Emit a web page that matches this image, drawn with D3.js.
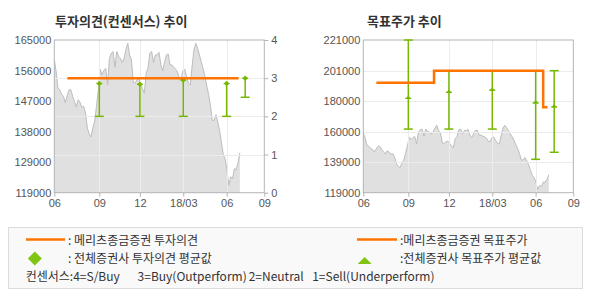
<!DOCTYPE html>
<html>
<head>
<meta charset="utf-8">
<script src="https://cdn.jsdelivr.net/npm/d3@7"></script>
<style>
  body { margin: 0; background: #fff; }
  svg text { font-family: "Liberation Sans", Arial, sans-serif; }
  .kr { font-family: "Noto Sans CJK KR", sans-serif; }
</style>
</head>
<body>
<svg id="chart" width="590" height="300"></svg>
<script>
// stock price, one value per sample step on the x axis
const price = [
  159000, 155500, 150500, 150000, 148600, 148000, 146100, 148200, 150000, 150000,
  148000, 146500, 144800, 147000, 146200, 144700, 145000, 143000, 138500, 136700,
  135800, 138600, 140600, 145200, 150200, 156200, 154500, 155800, 156500, 151500,
  159400, 161000, 161500, 156800, 161500, 160000, 159500, 158200, 159500, 162200,
  164000, 160500, 159000, 152100, 152000, 153000, 153500, 152000, 150300, 149000,
  155000, 156500, 161000, 161500, 158200, 160500, 160500, 161300, 157500, 155700,
  158300, 160500, 160800, 157500, 157500, 156800, 156200, 155400, 153400, 153000,
  155800, 156200, 154000, 152000, 151500, 157000, 162000, 164000, 162500, 160500,
  158400, 156300, 154000, 151100, 148600, 145200, 140800, 140800, 142500, 140200,
  137600, 134000, 130300, 129200, 125700, 121200, 123800, 123200, 126200, 126000,
  128000, 131000
];

// month ticks (position on the sample axis) and labels
const monthIdx = [0, 24.5, 46.6, 70.2, 93.8, 114.3];
const monthLabels = ["06", "09", "12", "18/03", "06", "09"];

// left chart axes
const priceLabelsL = ["119000", "129000", "138000", "147000", "156000", "165000"];
const opinionTicks = [0, 1, 2, 3, 4];
// right chart axis
const priceLabelsR = ["119000", "139000", "160000", "180000", "201000", "221000"];

// consensus opinion (all brokers)
const consIdx = [24.5, 46.6, 70.2, 93.8, 103.9];
const consAvg = [2.86, 2.84, 2.95, 2.86, 3.0];
const consLow = [2, 2, 2, 2, 2.5];
const consHigh = [2.86, 2.84, 2.95, 2.86, 3.0];

// consensus target price (all brokers)
const tpAvg = [182000, 186000, 187500, 179000, 176300];
const tpLow = [161500, 161500, 161500, 141300, 146000];
const tpHigh = [221000, 200500, 200500, 200500, 200500];

// Meritz opinion / target price (step lines)
const meritzOpIdx = [7.1, 100.3];
const meritzOp = [3, 3];
const meritzTpIdx = [7.1, 38.5, 97.9, 100.3];
const meritzTp = [192500, 200500, 176000, 176000];

const ORANGE = "#ff7300";
const GREEN = "#76b800";
const GREEN_LEG = "#80c414";

const svg = d3.select("#chart");

function drawPanel(opt) {
  const x = d3.scaleLinear().domain([monthIdx[0], monthIdx[monthIdx.length - 1]]).range([opt.left, opt.right]);
  const y = d3.scaleLinear().domain(opt.priceDomain).range([192.7, 40]);
  const g = svg.append("g");

  // price area
  const area = d3.area()
    .x((d, i) => x(i))
    .y0(y(opt.priceDomain[0]))
    .y1(d => y(d));
  g.append("path").datum(price).attr("d", area).attr("fill", "#e0e0e0");
  g.append("path").datum(price)
    .attr("d", d3.line().x((d, i) => x(i)).y(d => y(d)))
    .attr("fill", "none").attr("stroke", "#bdbdbd").attr("stroke-width", 1);

  // grid
  g.append("g").selectAll("line").data(monthIdx.slice(1, -1)).join("line")
    .attr("x1", d => Math.round(x(d)) + 0.5).attr("x2", d => Math.round(x(d)) + 0.5)
    .attr("y1", 40).attr("y2", 192.7)
    .attr("stroke", "#ececec");
  g.append("g").selectAll("line").data(opt.gridY).join("line")
    .attr("x1", opt.left).attr("x2", opt.right)
    .attr("y1", d => Math.round(opt.gridScale(d)) + 0.5).attr("y2", d => Math.round(opt.gridScale(d)) + 0.5)
    .attr("stroke", "#ececec");

  // frame
  g.append("rect")
    .attr("x", opt.left).attr("y", 40)
    .attr("width", opt.right - opt.left).attr("height", 192.7 - 40)
    .attr("fill", "none").attr("stroke", "#b4b4b4");

  // x axis
  const xAxis = g.append("g").attr("transform", "translate(0,192.7)")
    .call(d3.axisBottom(x).tickValues(monthIdx).tickFormat((d, i) => monthLabels[i]).tickSize(4).tickPadding(3));
  xAxis.select(".domain").remove();
  xAxis.selectAll("line").attr("stroke", "#b4b4b4");
  xAxis.selectAll("text").attr("fill", "#555").style("font-size", "11px");

  // left price axis
  const tickVals = opt.priceLabels.map((_, i) => d3.interpolateNumber(opt.priceDomain[0], opt.priceDomain[1])(i / (opt.priceLabels.length - 1)));
  const yAxis = g.append("g").attr("transform", `translate(${opt.left},0)`)
    .call(d3.axisLeft(y).tickValues(tickVals).tickFormat((d, i) => opt.priceLabels[i]).tickSize(0).tickPadding(3));
  yAxis.select(".domain").remove();
  yAxis.selectAll("text").attr("fill", "#555").style("font-size", "11px");

  return { g, x, y };
}

// ---------- left: investment opinion ----------
const rOp = d3.scaleLinear().domain([0, 4]).range([192.7, 40]);
const L = drawPanel({
  left: 54.3, right: 264.3, priceDomain: [119000, 165000], priceLabels: priceLabelsL,
  gridY: [1, 2, 3], gridScale: rOp
});
const rAxis = L.g.append("g").attr("transform", "translate(264.3,0)")
  .call(d3.axisRight(rOp).tickValues(opinionTicks).tickFormat(d3.format("d")).tickSize(4).tickPadding(3));
rAxis.select(".domain").remove();
rAxis.selectAll("line").attr("stroke", "#b4b4b4");
rAxis.selectAll("text").attr("fill", "#555").style("font-size", "11px");

function errorBars(g, x, y, idx, low, high, avg) {
  const bars = g.append("g").selectAll("g").data(idx).join("g");
  bars.append("line")
    .attr("x1", d => x(d)).attr("x2", d => x(d))
    .attr("y1", (d, i) => y(low[i])).attr("y2", (d, i) => y(high[i]))
    .attr("stroke", GREEN).attr("stroke-width", 1.5);
  bars.append("line")
    .attr("x1", d => x(d) - 4.5).attr("x2", d => x(d) + 4.5)
    .attr("y1", (d, i) => y(low[i])).attr("y2", (d, i) => y(low[i]))
    .attr("stroke", GREEN).attr("stroke-width", 1.5);
  bars.filter((d, i) => high[i] > avg[i]).append("line")
    .attr("x1", d => x(d) - 4.5).attr("x2", d => x(d) + 4.5)
    .attr("y1", d => y(high[idx.indexOf(d)])).attr("y2", d => y(high[idx.indexOf(d)]))
    .attr("stroke", GREEN).attr("stroke-width", 1.5);
  return bars;
}

const opBars = errorBars(L.g, L.x, rOp, consIdx, consLow, consHigh, consAvg);

// Meritz opinion line
L.g.append("path")
  .datum(meritzOpIdx.map((d, i) => [d, meritzOp[i]]))
  .attr("d", d3.line().x(d => L.x(d[0])).y(d => rOp(d[1])).curve(d3.curveStepAfter))
  .attr("fill", "none").attr("stroke", ORANGE).attr("stroke-width", 2.5);

opBars.append("path")
  .attr("transform", (d, i) => `translate(${L.x(d)},${rOp(consAvg[i])})`)
  .attr("d", "M0,-2.8L2.8,0L0,2.8L-2.8,0Z")
  .attr("fill", GREEN);
opBars.append("line")
  .attr("x1", d => L.x(d) - 3).attr("x2", d => L.x(d) + 3)
  .attr("y1", (d, i) => rOp(consAvg[i])).attr("y2", (d, i) => rOp(consAvg[i]))
  .attr("stroke", GREEN).attr("stroke-width", 1.2);

// ---------- right: target price ----------
const R = drawPanel({
  left: 363.3, right: 573.3, priceDomain: [119000, 221000], priceLabels: priceLabelsR,
  gridY: [1, 2, 3, 4], gridScale: d3.scaleLinear().domain([0, 5]).range([192.7, 40])
});

const tpBars = errorBars(R.g, R.x, R.y, consIdx, tpLow, tpHigh, tpAvg);

R.g.append("path")
  .datum(meritzTpIdx.map((d, i) => [d, meritzTp[i]]))
  .attr("d", d3.line().x(d => R.x(d[0])).y(d => R.y(d[1])).curve(d3.curveStepAfter))
  .attr("fill", "none").attr("stroke", ORANGE).attr("stroke-width", 2.5);

tpBars.append("path")
  .attr("transform", (d, i) => `translate(${R.x(d)},${R.y(tpAvg[i])})`)
  .attr("d", "M-3,0.5L0,-3L3,0.5Z")
  .attr("fill", GREEN);
tpBars.append("line")
  .attr("x1", d => R.x(d) - 3).attr("x2", d => R.x(d) + 3)
  .attr("y1", (d, i) => R.y(tpAvg[i])).attr("y2", (d, i) => R.y(tpAvg[i]))
  .attr("stroke", GREEN).attr("stroke-width", 1.2);

// titles
svg.append("text").attr("class", "kr").attr("x", 55).attr("y", 26)
  .style("font-size", "13px").style("font-weight", "bold").attr("fill", "#333")
  .text("투자의견(컨센서스) 추이");
svg.append("text").attr("class", "kr").attr("x", 367).attr("y", 26)
  .style("font-size", "13px").style("font-weight", "bold").attr("fill", "#333")
  .text("목표주가 추이");

// ---------- legend ----------
const leg = svg.append("g");
leg.append("rect").attr("x", 8.5).attr("y", 227.5).attr("width", 574).attr("height", 61)
  .attr("fill", "#f9f9f9").attr("stroke", "#dcdcdc");

leg.append("line").attr("x1", 26).attr("x2", 65).attr("y1", 239.5).attr("y2", 239.5)
  .attr("stroke", ORANGE).attr("stroke-width", 2.5);
leg.append("line").attr("x1", 357).attr("x2", 397).attr("y1", 239.5).attr("y2", 239.5)
  .attr("stroke", ORANGE).attr("stroke-width", 2.5);
leg.append("path").attr("transform", "translate(34.8,258.5)")
  .attr("d", "M0,-7L7,0L0,7L-7,0Z").attr("fill", GREEN_LEG);
leg.append("path").attr("transform", "translate(364.7,261)")
  .attr("d", "M-7,3L0,-4L7,3Z").attr("fill", GREEN_LEG);

const legTexts = [
  { x: 68, y: 245, t: ": 메리츠종금증권 투자의견" },
  { x: 68, y: 263, t: ": 전체증권사 투자의견 평균값" },
  { x: 400, y: 245, t: ":메리츠종금증권 목표주가" },
  { x: 400, y: 263, t: ":전체증권사 목표주가 평균값" },
  { x: 25.7, y: 281, t: "컨센서스:4=S/Buy" },
  { x: 137.6, y: 281, t: "3=Buy(Outperform)" },
  { x: 248.7, y: 281, t: "2=Neutral" },
  { x: 312.2, y: 281, t: "1=Sell(Underperform)" }
];
leg.selectAll("text.lt").data(legTexts).join("text")
  .attr("class", "kr lt")
  .attr("x", d => d.x).attr("y", d => d.y)
  .style("font-size", "12px").attr("fill", "#333")
  .text(d => d.t);
</script>
</body>
</html>
